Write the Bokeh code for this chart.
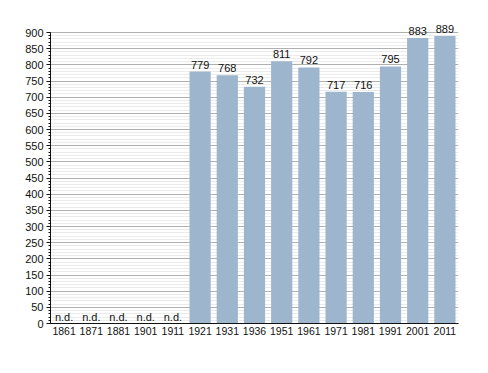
from bokeh.plotting import figure
from bokeh.models import ColumnDataSource, FactorRange, Range1d, SingleIntervalTicker
from bokeh.embed import file_html
from bokeh.resources import INLINE
from bokeh.core.properties import value

years = ["1861", "1871", "1881", "1901", "1911", "1921", "1931", "1936",
         "1951", "1961", "1971", "1981", "1991", "2001", "2011"]
population = [None, None, None, None, None, 779, 768, 732, 811, 792, 717, 716, 795, 883, 889]
nd_years = ["1861", "1871", "1881", "1901", "1911"]
y_max = 900

FONT = value("Liberation Sans")

bar_years = [y for y, v in zip(years, population) if v is not None]
bar_vals = [v for v in population if v is not None]
src = ColumnDataSource(dict(x=bar_years, top=bar_vals, label=[str(v) for v in bar_vals]))
nd_src = ColumnDataSource(dict(x=nd_years, y=[0] * len(nd_years), label=["n.d."] * len(nd_years)))

top_border = 21
frame_h = 373 - top_border - 50
# frame extends a little above 900 so the top labels are not clipped
p = figure(width=488, height=373, x_range=FactorRange(*years),
           y_range=Range1d(0, y_max * frame_h / 291.0),
           output_backend="svg", toolbar_location=None,
           min_border_left=50, min_border_right=30, min_border_top=top_border, min_border_bottom=50)
p.outline_line_color = None
p.background_fill_color = "white"

p.vbar(x="x", top="top", width=0.78, source=src, fill_color="#9db5cd", line_color=None)
p.text(x="x", y="top", text="label", source=src, text_align="center", text_baseline="bottom",
       y_offset=-3, text_font=FONT, text_font_size="11px", text_color="#111111")
p.text(x="x", y="y", text="label", source=nd_src, text_align="center", text_baseline="bottom",
       y_offset=-1, text_font=FONT, text_font_size="11px", text_color="#111111")

p.xgrid.grid_line_color = None
p.ygrid.grid_line_color = "#b0b0b0"
p.ygrid.minor_grid_line_color = "#ebebeb"
p.ygrid.level = "underlay"
p.ygrid.bounds = (0, y_max)

p.yaxis.bounds = (0, y_max)
p.yaxis.ticker = SingleIntervalTicker(interval=50, num_minor_ticks=5)
p.yaxis.major_tick_out = 4
p.yaxis.major_tick_in = 0
p.yaxis.minor_tick_out = 2
p.yaxis.minor_tick_in = 0
p.yaxis.axis_line_color = "#111111"
p.yaxis.major_tick_line_color = "#111111"
p.yaxis.minor_tick_line_color = "#111111"
p.yaxis.major_label_text_font = "Liberation Sans"
p.yaxis.major_label_text_font_size = "11px"
p.yaxis.major_label_text_color = "#111111"
p.yaxis.major_label_standoff = 3

p.xaxis.axis_line_color = "#111111"
p.xaxis.major_tick_line_color = None
p.xaxis.minor_tick_line_color = None
p.xaxis.major_tick_out = 0
p.xaxis.major_tick_in = 0
p.xaxis.major_label_text_font = "Liberation Sans"
p.xaxis.major_label_text_font_size = "10.5px"
p.xaxis.major_label_text_color = "#111111"
p.xaxis.major_label_standoff = 3
p.x_range.range_padding = 0
p.x_range.group_padding = 0

open("out.html", "w").write(file_html(p, INLINE))
